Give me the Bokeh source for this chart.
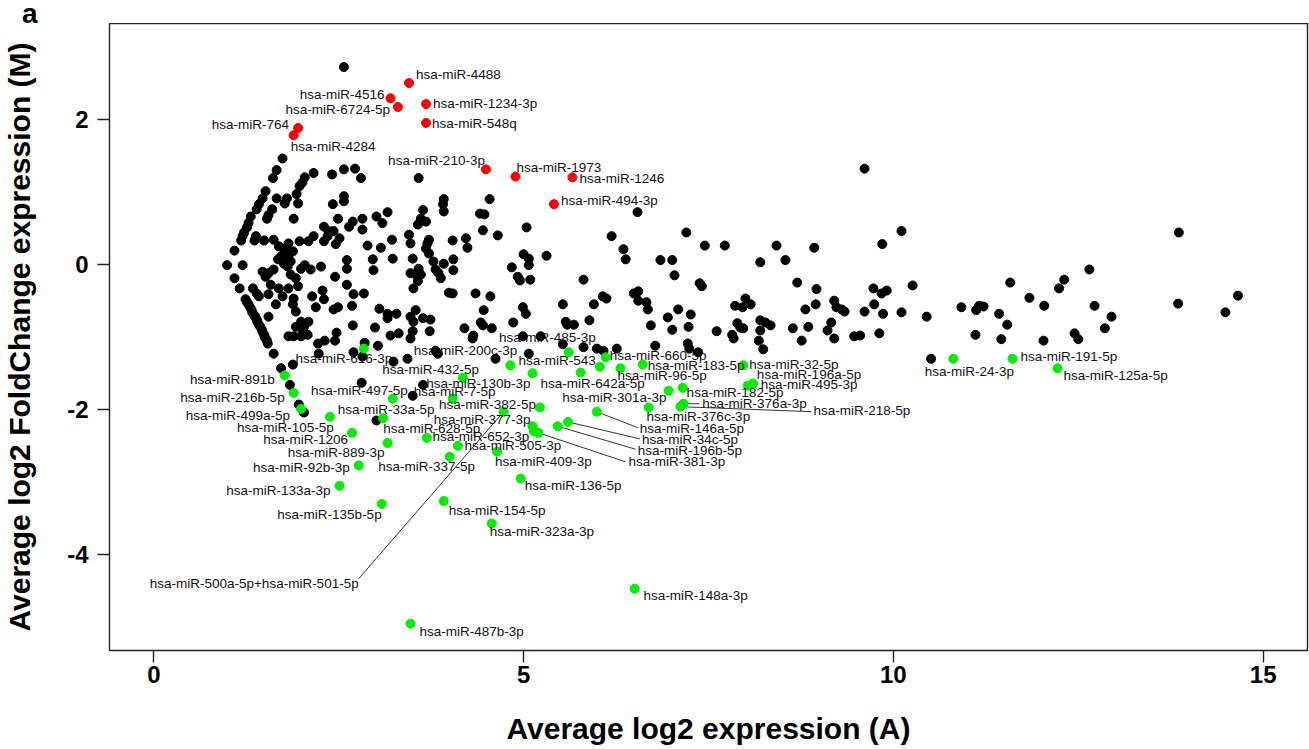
from bokeh.plotting import figure
from bokeh.models import Range1d, FixedTicker, ColumnDataSource, Div
from bokeh.layouts import column
from bokeh.embed import file_html
from bokeh.resources import INLINE
from bokeh.core.properties import value

# ---------------- data ----------------
x_ticks = [0, 5, 10, 15]
y_ticks = [-4, -2, 0, 2]

black_A = [2.57, 1.74, 1.66, 1.61, 2.16, 2.04, 2.01, 1.97, 2.41, 2.57, 2.72, 2.80, 3.58, 1.51, 1.47, 1.42, 1.39,
           1.66, 1.80, 1.77, 1.93, 1.95, 2.42, 2.57, 2.57, 3.64, 3.92, 3.91, 3.92, 4.54, 4.41, 4.47, 1.31, 1.89,
           1.60, 1.55, 1.53, 2.49, 1.28, 1.26, 1.22, 1.20, 1.18, 1.38, 1.36, 1.49, 1.62, 1.82, 1.97, 2.09, 2.16,
           2.30, 2.36, 2.35, 2.30, 2.43, 2.46, 2.51, 2.64, 2.69, 2.82, 2.82, 3.01, 3.09, 3.16, 2.89, 3.07, 3.22,
           2.96, 2.97, 3.23, 2.61, 2.61, 2.45, 2.61, 2.70, 2.84, 2.28, 2.30, 2.19, 2.43, 2.49, 2.68, 3.05, 3.16,
           3.28, 3.16, 2.99, 3.20, 2.69, 2.47, 2.85, 3.03, 2.70, 2.22, 2.31, 2.45, 0.99, 1.20, 1.09, 1.09, 1.16,
           1.24, 1.26, 1.28, 1.30, 1.32, 1.33, 1.35, 1.37, 1.39, 1.40, 1.42, 1.44, 1.46, 1.47, 1.49, 1.50, 1.51,
           1.53, 1.54, 1.34, 1.39, 1.42, 1.55, 1.62, 1.72, 1.99, 1.85, 1.92, 1.95, 1.82, 1.47, 1.55, 1.51, 1.62,
           1.58, 1.69, 1.74, 1.65, 1.55, 1.89, 1.88, 1.92, 1.99, 1.92, 2.03, 2.09, 2.01, 2.08, 1.82, 1.89, 2.23,
           2.14, 2.26, 2.12, 2.04, 1.69, 1.76, 1.78, 1.72, 1.82, 1.85, 1.76, 1.68, 1.88, 1.81, 3.45, 3.47, 3.50,
           3.47, 3.54, 3.61, 3.57, 3.51, 3.58, 3.61, 3.68, 3.57, 3.72, 3.70, 3.68, 3.72, 3.78, 3.81, 3.85, 3.47,
           3.51, 3.50, 3.47, 3.31, 3.43, 3.64, 3.74, 3.54, 3.81, 3.24, 2.82, 6.54, 4.45, 4.65, 5.04, 4.22, 4.24,
           4.04, 4.05, 3.92, 4.05, 3.88, 6.19, 7.20, 6.35, 6.38, 7.45, 7.72, 6.85, 7.01, 7.04, 7.38, 7.41, 5.00,
           5.07, 5.07, 5.31, 4.84, 4.92, 4.95, 5.09, 5.81, 3.99, 4.04, 4.35, 4.55, 4.46, 4.42, 4.45, 4.57, 4.20,
           4.32, 4.31, 4.99, 5.03, 4.86, 5.53, 5.57, 5.59, 5.68, 5.89, 5.95, 6.07, 6.12, 6.49, 6.55, 6.55, 6.66,
           6.68, 6.72, 6.95, 7.09, 7.26, 7.01, 7.61, 7.82, 7.84, 7.86, 7.96, 8.00, 7.89, 7.93, 7.97, 5.53, 6.08,
           6.26, 6.78, 7.22, 7.24, 7.36, 5.07, 4.62, 9.61, 10.11, 9.85, 8.42, 8.93, 8.20, 8.54, 8.70, 8.96, 8.07,
           8.81, 8.95, 9.20, 9.23, 9.30, 9.34, 9.73, 9.74, 9.84, 9.91, 9.61, 9.86, 10.11, 10.26, 10.45, 8.20,
           8.27, 8.34, 8.20, 8.18, 8.24, 8.64, 8.85, 8.76, 9.16, 9.11, 9.20, 9.47, 9.55, 9.81, 10.51, 10.92,
           11.12, 11.16, 11.22, 11.11, 11.43, 11.54, 11.46, 11.58, 11.84, 12.04, 12.03, 12.24, 12.31, 12.45,
           12.50, 12.65, 12.72, 12.86, 12.95, 13.86, 13.85, 14.49, 14.66, 1.88, 1.84, 1.96, 2.03, 1.99, 3.73,
           3.84, 2.81, 3.64, 3.50, 3.01, 4.99, 5.23, 5.81, 5.99, 7.23]
black_M = [2.72, 1.46, 1.30, 1.19, 1.26, 1.20, 1.13, 1.08, 1.24, 1.31, 1.32, 1.19, 1.19, 1.01, 0.91, 0.83, 0.76,
           0.91, 0.91, 0.84, 0.97, 0.84, 0.83, 0.94, 0.87, 0.75, 0.90, 0.83, 0.73, 0.90, 0.70, 0.69, 0.66, 0.63,
           0.76, 0.68, 0.63, 0.63, 0.57, 0.51, 0.44, 0.39, 0.33, 0.39, 0.33, 0.33, 0.34, 0.29, 0.32, 0.32, 0.39,
           0.52, 0.46, 0.39, 0.32, 0.46, 0.28, 0.36, 0.52, 0.59, 0.63, 0.48, 0.66, 0.57, 0.72, 0.26, 0.23, 0.34,
           0.07, -0.08, 0.08, 0.06, -0.06, -0.17, -0.28, -0.41, -0.40, -0.36, -0.48, -0.59, -0.62, -0.59, -0.57,
           -0.61, -0.68, -0.68, -0.74, -0.87, -0.98, -0.84, -0.94, -1.08, -1.12, -1.21, -1.09, -1.05, -1.05,
           -0.01, -0.01, 0.19, -0.19, -0.33, -0.48, -0.52, -0.55, -0.59, -0.62, -0.66, -0.69, -0.72, -0.76,
           -0.79, -0.83, -0.86, -0.90, -0.93, -0.97, -1.00, -1.02, -1.05, -1.09, -0.33, -0.40, -0.44, -0.72,
           -1.23, -1.43, -0.06, -0.14, -0.19, -0.30, -0.33, -0.10, -0.12, -0.17, -0.07, -0.28, -0.33, -0.44,
           -0.55, -0.41, -0.47, -0.55, -0.65, -0.79, -0.86, -0.86, -0.79, -0.95, -0.97, -0.99, -0.99, -1.23,
           -0.44, -0.03, -0.07, -0.01, 0.25, 0.21, 0.15, 0.11, 0.11, 0.04, 0.01, 0.07, 0.18, -0.03, 0.41, 0.29,
           0.08, -0.12, -0.14, -0.14, -0.23, -0.33, -0.06, 0.63, 0.59, 0.55, 0.34, 0.29, 0.22, 0.15, 0.04, -0.07,
           -0.12, -0.72, -0.79, -0.92, -1.02, -0.95, -1.30, -0.74, -0.76, -0.63, -1.19, -1.34, -1.27, 0.72, 0.47,
           0.40, 0.51, 0.36, 0.23, 0.33, 0.07, 0.01, -0.08, -0.19, 0.39, 0.44, 0.21, 0.07, 0.26, 0.26, 0.06, 0.06,
           -0.15, -0.26, -0.30, 0.14, 0.08, -0.01, 0.12, -0.04, -0.17, -0.22, -0.21, -0.21, -0.39, -0.40, -0.40,
           -0.44, -0.63, -0.80, -0.84, -0.88, -0.88, -0.98, -1.02, -0.59, -0.68, -0.80, -0.55, -0.79, -0.83,
           -0.83, -0.77, -0.55, -0.44, -0.47, -0.40, -0.37, -0.50, -0.52, -0.62, -0.84, -0.73, -0.62, -0.69,
           -0.90, -0.92, -0.97, -1.02, -0.57, -0.59, -0.47, -0.81, -0.87, -0.88, -1.10, -1.19, -1.16, -1.12,
           -1.09, -1.16, -1.21, -1.23, -1.30, 1.32, 0.46, 0.28, 0.26, 0.23, 0.03, 0.06, -0.25, -0.34, -0.55,
           -0.62, -0.55, -0.50, -0.59, -0.62, -0.65, -0.33, -0.55, -0.40, -0.36, -0.65, -0.68, -0.66, -0.29,
           -0.72, -0.77, -0.80, -0.84, -0.91, -1.05, -1.17, -0.88, -0.86, -1.05, -0.80, -0.91, -1.02, -0.99,
           -0.98, -0.95, -1.30, -0.59, -0.63, -0.57, -0.58, -0.97, -0.68, -0.83, -1.03, -0.25, -0.46, -0.57,
           -1.05, -0.33, -0.21, -0.95, -1.03, -0.07, -0.57, -0.88, -0.72, 0.44, -0.54, -0.66, -0.43, -1.38,
           -1.66, -1.93, -2.04, -0.99, -0.92, -1.23, -1.63, -1.66, -1.81, -2.15, -0.99, -0.99, -1.14, -1.16, -0.86]

red_names = ["hsa-miR-4488", "hsa-miR-4516", "hsa-miR-6724-5p", "hsa-miR-1234-3p", "hsa-miR-548q",
             "hsa-miR-764", "hsa-miR-4284", "hsa-miR-210-3p", "hsa-miR-1973", "hsa-miR-1246", "hsa-miR-494-3p"]
red_A = [3.45, 3.20, 3.30, 3.68, 3.68, 1.95, 1.89, 4.49, 4.89, 5.66, 5.41]
red_M = [2.50, 2.29, 2.17, 2.21, 1.95, 1.88, 1.78, 1.31, 1.21, 1.20, 0.83]

green_names = ["hsa-miR-616-3p", "hsa-miR-891b", "hsa-miR-216b-5p", "hsa-miR-499a-5p", "hsa-miR-105-5p",
               "hsa-miR-1206", "hsa-miR-889-3p", "hsa-miR-92b-3p", "hsa-miR-133a-3p", "hsa-miR-135b-5p",
               "hsa-miR-497-5p", "hsa-miR-33a-5p", "hsa-miR-628-5p", "hsa-miR-432-5p", "hsa-miR-7-5p",
               "hsa-miR-652-3p", "hsa-miR-337-5p", "hsa-miR-409-3p", "hsa-miR-136-5p", "hsa-miR-154-5p",
               "hsa-miR-500a-5p+hsa-miR-501-5p", "hsa-miR-377-3p", "hsa-miR-505-3p", "hsa-miR-381-3p",
               "hsa-miR-382-5p", "hsa-miR-200c-3p", "hsa-miR-130b-3p", "hsa-miR-485-3p", "hsa-miR-543",
               "hsa-miR-660-5p", "hsa-miR-642a-5p", "hsa-miR-96-5p", "hsa-miR-183-5p", "hsa-miR-32-5p",
               "hsa-miR-495-3p", "hsa-miR-196a-5p", "hsa-miR-301a-3p", "hsa-miR-182-5p", "hsa-miR-376a-3p",
               "hsa-miR-218-5p", "hsa-miR-376c-3p", "hsa-miR-146a-5p", "hsa-miR-34c-5p", "hsa-miR-196b-5p",
               "hsa-miR-323a-3p", "hsa-miR-487b-3p", "hsa-miR-148a-3p", "hsa-miR-24-3p", "hsa-miR-191-5p",
               "hsa-miR-125a-5p"]
green_A = [2.84, 1.77, 1.89, 1.99, 2.38, 2.68, 3.16, 2.77, 2.51, 3.08, 3.23, 3.10, 3.69, 4.18, 4.04, 4.11, 4.00,
           4.64, 4.96, 3.92, 4.73, 5.12, 5.14, 5.20, 5.22, 4.82, 5.12, 5.61, 6.03, 6.11, 5.77, 6.31, 6.61, 7.97,
           8.03, 8.10, 6.96, 7.15, 7.16, 7.12, 6.69, 5.99, 5.60, 5.46, 4.57, 3.47, 6.50, 10.81, 11.61, 12.22]
green_M = [-1.16, -1.53, -1.77, -1.99, -2.10, -2.32, -2.46, -2.77, -3.05, -3.30, -1.85, -2.12, -2.39, -1.56,
           -1.85, -2.50, -2.65, -2.58, -2.95, -3.26, -2.03, -2.23, -2.30, -2.32, -1.97, -1.39, -1.50, -1.21,
           -1.41, -1.28, -1.49, -1.43, -1.38, -1.39, -1.67, -1.64, -1.74, -1.70, -1.92, -1.96, -1.97, -2.03,
           -2.17, -2.23, -3.57, -4.95, -4.47, -1.30, -1.30, -1.43]

# ---------------- label layout (screen pixels, not data) ----------------
red_align = ["left", "right", "right", "left", "left", "right", "left", "right", "left", "left", "left"]
red_dx = [7, -6, -8, 7, 6, -9, -3, -1, 1, 7, 7]
red_dy = [-9, -4, 3, -1, 1, -4, 11, -9, -9, 1, -4]

green_align = ["center", "right", "right", "right", "right", "right", "right", "right", "right", "right",
               "right", "center", "center", "right", "center", "center", "center", "left", "left", "left",
               "right", "right", "center", "left", "right", "right", "right", "right", "right", "left",
               "center", "left", "left", "left", "left", "left", "right", "left", "left", "left",
               "left", "left", "left", "left", "left", "left", "left", "center", "left", "left"]
green_dx = [-20, -10, -9, -11, 4, -4, -3, -9, -9, 0, 15, 3, 5, 16, 2, 23, -23, -2, 4, 5,
            -145, -2, -21, 90, -4, 7, -2, 27, -4, 4, 12, -3, 5, 6, 13, 4, -2, 4, 19, 133,
            -2, 43, 74, 80, -2, 9, 9, 16, 8, 6]
green_dy = [10, 4, 5, 7, 11, 7, 10, 2, 5, 11, -8, -9, -9, -8, -7, -9, 10, 10, 7, 9,
            172, -7, 14, 29, -3, -15, 10, -15, -6, -2, 11, 7, 1, -1, -1, -9, 7, 5, 0, 4,
            9, 17, 18, 24, 8, 8, 7, 13, -2, 7]

leader_idx = [20, 23, 38, 39, 41, 42, 43]
leader_dx = [-145, 87, 16, 131, 41, 72, 78]
leader_dy = [167, 29, 0, 5, 16, 17, 23]

# ---------------- figure ----------------
W, H = 1309, 749
HEAD = 23                      # strip above the frame holding the panel letter
BL, BR, BB = 109, 2, 99
x0, x1, y0, y1 = -0.6, 15.6, -5.32, 3.32
ppx = (W - BL - BR) / (x1 - x0)
ppy = (H - HEAD - BB) / (y1 - y0)

FONT = "Liberation Sans"
p = figure(width=W, height=H - HEAD, x_range=Range1d(x0, x1), y_range=Range1d(y0, y1),
           output_backend="svg", toolbar_location=None, title=None,
           min_border_left=BL, min_border_right=BR, min_border_top=0, min_border_bottom=BB)
p.grid.visible = False
p.outline_line_color = "#222222"
p.outline_line_width = 1.4
p.background_fill_color = "white"
p.border_fill_color = "white"

for ax, ticks in ((p.xaxis, x_ticks), (p.yaxis, y_ticks)):
    ax.ticker = FixedTicker(ticks=ticks)
    ax.major_label_overrides = {t: str(t) for t in ticks}
    ax.axis_line_color = None
    ax.major_tick_line_color = "#222222"
    ax.major_tick_line_width = 1.4
    ax.major_tick_out = 12
    ax.major_tick_in = 0
    ax.minor_tick_line_color = None
    ax.major_label_text_font = FONT
    ax.major_label_text_font_size = "24px"
    ax.major_label_text_font_style = "bold"
    ax.major_label_text_color = "black"
    ax.axis_label_text_font = FONT
    ax.axis_label_text_font_size = "30px"
    ax.axis_label_text_font_style = "bold"
    ax.axis_label_text_color = "black"

p.xaxis.axis_label = "Average log2 expression (A)"
p.yaxis.axis_label = "Average log2 FoldChange expression (M)"
p.xaxis.major_label_standoff = 3
p.yaxis.major_label_standoff = 9
p.xaxis.axis_label_standoff = 26
p.yaxis.axis_label_standoff = 28
p.yaxis.major_label_orientation = "horizontal"

# leader lines
lsrc = ColumnDataSource(dict(
    xs=[green_A[i] for i in leader_idx],
    ys=[green_M[i] for i in leader_idx],
    xe=[green_A[i] + dx / ppx for i, dx in zip(leader_idx, leader_dx)],
    ye=[green_M[i] - dy / ppy for i, dy in zip(leader_idx, leader_dy)],
))
p.segment(x0="xs", y0="ys", x1="xe", y1="ye", source=lsrc, line_color="#333333", line_width=1)

DOT = 9
p.scatter(black_A, black_M, size=DOT, color="black", marker="circle")
p.scatter(red_A, red_M, size=DOT, color="#ff0000", marker="circle")
p.scatter(green_A, green_M, size=DOT, color="#00ee00", marker="circle")


def add_labels(names, A, M, align, dx, dy):
    for al in ("left", "right", "center"):
        idx = [i for i in range(len(names)) if align[i] == al]
        if not idx:
            continue
        src = ColumnDataSource(dict(
            x=[A[i] for i in idx], y=[M[i] for i in idx], t=[names[i] for i in idx],
            xo=[dx[i] for i in idx], yo=[dy[i] for i in idx]))
        p.text(x="x", y="y", text="t", x_offset="xo", y_offset="yo", source=src,
               text_align=al, text_baseline="middle", text_font=value(FONT),
               text_font_size="13.5px", text_color="#111111")


add_labels(red_names, red_A, red_M, red_align, red_dx, red_dy)
add_labels(green_names, green_A, green_M, green_align, green_dx, green_dy)

head = Div(text='<div style="font-family:\'Liberation Sans\',Arial,sans-serif;font-size:28px;'
                'font-weight:bold;line-height:28px;padding-left:22px;color:black;'
                'white-space:nowrap;">a</div>',
           width=W, height=HEAD, margin=0)

layout = column(head, p, spacing=0)
open("out.html", "w").write(file_html(layout, INLINE))
